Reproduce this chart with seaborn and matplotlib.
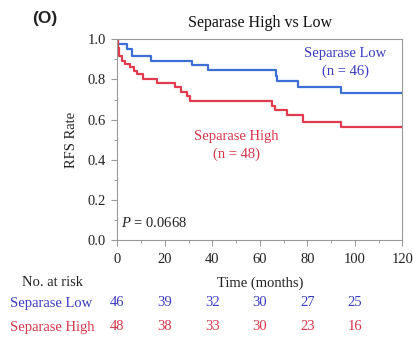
import matplotlib
matplotlib.use("Agg")
import matplotlib.pyplot as plt
import matplotlib.transforms as mtransforms
from matplotlib.ticker import MultipleLocator
import pandas as pd
import seaborn as sns

# Kaplan-Meier step estimates (months, RFS probability)
low_times = [0, 0.3, 4.2, 6.0, 14.3, 31.3, 38.3, 66.8, 67.4, 76.2, 94.0, 120]
low_surv = [1.0, 0.978, 0.952, 0.918, 0.894, 0.870, 0.846, 0.818, 0.790, 0.761, 0.733, 0.733]

high_times = [0, 0.3, 0.8, 2.0, 3.4, 5.5, 6.9, 8.3, 11.0, 16.6, 24.3, 27.0, 29.2,
              30.5, 65.0, 66.4, 71.3, 78.3, 94.0, 120]
high_surv = [1.0, 0.958, 0.917, 0.894, 0.876, 0.860, 0.843, 0.827, 0.800, 0.780,
             0.761, 0.739, 0.716, 0.692, 0.668, 0.648, 0.623, 0.589, 0.562, 0.562]

groups = ["Separase Low", "Separase High"]
group_sizes = [46, 48]
risk_times = [0, 20, 40, 60, 80, 100]
risk_low = [46, 39, 32, 30, 27, 25]
risk_high = [48, 38, 33, 30, 23, 16]
p_value = "0.0668"

line_colors = {"Separase Low": "#3d6fd6", "Separase High": "#e23a4e"}
text_colors = {"Separase Low": "#3a3ac4", "Separase High": "#d8344a"}

sns.set_style("ticks")
plt.rcParams["font.family"] = ["Liberation Serif", "DejaVu Serif"]
plt.rcParams["mathtext.fontset"] = "custom"
plt.rcParams["mathtext.rm"] = "Liberation Serif"
plt.rcParams["mathtext.it"] = "Liberation Serif:italic"

df = pd.concat([
    pd.DataFrame({"time": low_times, "surv": low_surv, "group": groups[0]}),
    pd.DataFrame({"time": high_times, "surv": high_surv, "group": groups[1]}),
], ignore_index=True)

fig = plt.figure(figsize=(4.14, 3.4), dpi=100)
ax = fig.add_axes([0.2833, 0.2941, 0.6884, 0.5903])

sns.lineplot(data=df, x="time", y="surv", hue="group", hue_order=groups,
             palette=line_colors, estimator=None, sort=False,
             drawstyle="steps-post", linewidth=1.6, legend=False, ax=ax)

ax.set_xlim(0, 120)
ax.set_ylim(0, 1.0)
ax.xaxis.set_major_locator(MultipleLocator(20))
ax.xaxis.set_minor_locator(MultipleLocator(10))
ax.yaxis.set_major_locator(MultipleLocator(0.2))
ax.yaxis.set_minor_locator(MultipleLocator(0.1))
ax.yaxis.set_major_formatter(matplotlib.ticker.FormatStrFormatter("%.1f"))

for side in ["left", "bottom", "top", "right"]:
    ax.spines[side].set_color("#999999")
    ax.spines[side].set_linewidth(0.8)
ax.tick_params(which="major", direction="out", length=4, width=0.8,
               color="#999999", labelsize=10.5, labelcolor="#222222", pad=4)
ax.tick_params(which="minor", direction="out", length=2, width=0.7, color="#999999")
ax.tick_params(axis="x", which="major", pad=5)

ax.set_xlabel("Time (months)", fontsize=10.5, color="#222222", labelpad=8)
ax.set_ylabel("RFS Rate", fontsize=10.5, color="#222222", labelpad=7)

fig.text(260 / 414, 1 - 23 / 340, "Separase High vs Low", ha="center", va="center",
         fontsize=11.5, color="#111111")
fig.text(32 / 414, 1 - 19 / 340, "(O)", ha="left", va="center", fontsize=12.5,
         fontweight="bold", family=["Liberation Sans", "DejaVu Sans"], color="#222222")

ax.text(95.9, 0.930, groups[0], ha="center", va="center", fontsize=10.5,
        color=text_colors[groups[0]])
ax.text(95.9, 0.839, f"(n = {group_sizes[0]})", ha="center", va="center",
        fontsize=10.5, color=text_colors[groups[0]])
ax.text(50.3, 0.515, groups[1], ha="center", va="center", fontsize=10.5,
        color=text_colors[groups[1]])
ax.text(50.3, 0.429, f"(n = {group_sizes[1]})", ha="center", va="center",
        fontsize=10.5, color=text_colors[groups[1]])
ax.text(1.5, 0.083, f"$P$ = {p_value}", ha="left", va="center", fontsize=10.5,
        color="#222222")

# Number-at-risk table under the axis
blend = mtransforms.blended_transform_factory(ax.transData, fig.transFigure)
fig.text(22 / 414, 1 - 282 / 340, "No. at risk", ha="left", va="center",
         fontsize=10.5, color="#222222")
for label, counts, ypix in [(groups[0], risk_low, 303), (groups[1], risk_high, 327)]:
    yfrac = 1 - ypix / 340
    fig.text(10 / 414, yfrac, label, ha="left", va="center", fontsize=10.5,
             color=text_colors[label])
    for t, n in zip(risk_times, counts):
        ax.text(t, yfrac, str(n), transform=blend, ha="center", va="center",
                fontsize=10.5, color=text_colors[label], clip_on=False)

fig.savefig("out.png", dpi=100)
